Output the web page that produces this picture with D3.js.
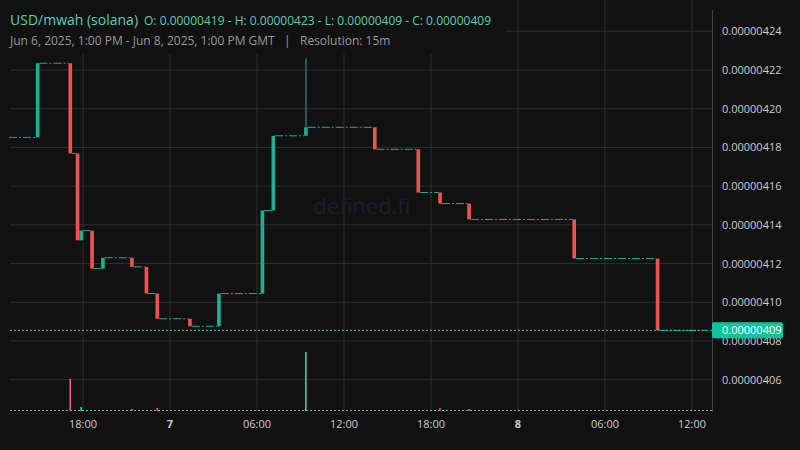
<!DOCTYPE html>
<html><head><meta charset="utf-8">
<script src="https://cdn.jsdelivr.net/npm/d3@7"></script>
<style>body{margin:0;background:#111}svg{display:block}</style></head>
<body><svg id="c" width="800" height="450"></svg>
<script>
const startLevel = 418.52; // in 1e-8
const stepHours = [1.75,4,4.5,4.75,5.5,6.25,8.25,9.25,10,12.25,14.25,17.25,18,20.25,25,28,29.5,31.5,38.75,44.5];
const stepPrices = [422.35,417.69,413.2,413.7,411.74,412.3,411.83,410.45,409.15,408.76,410.45,414.74,418.6,419.04,417.9,415.67,415.1,414.28,412.26,408.55];
const stepVolumes = [0,32,0,4,0,0,2,0,3,0,1,0,0,59,0,0,3,2,1,0];
const yTicks = [406,408,410,412,414,416,418,420,422,424];
const xTickHours = [5,11,17,23,29,35,41,47];
const xTickLabels = ["18:00","7","06:00","12:00","18:00","8","06:00","12:00"];
const lastPrice = 408.55;
const wickHigh = {13:422.6};

const svg = d3.select("#c");
svg.append("rect").attr("width",800).attr("height",450).attr("fill","#111");
const x = d3.scaleLinear().domain([0,48]).range([10.5,706.5]);
const y = d3.scaleLinear().domain([408,422]).range([341,70]);
const v = d3.scaleLinear().domain([0,59]).range([411,352]);
const grid = "#2e2e2e";
const g = svg.append("g");
yTicks.forEach(t=>g.append("line").attr("x1",10).attr("x2",712).attr("y1",y(t)).attr("y2",y(t)).attr("stroke",grid));
xTickHours.forEach(h=>g.append("line").attr("x1",x(h)).attr("x2",x(h)).attr("y1",0).attr("y2",412).attr("stroke",grid));
svg.append("line").attr("x1",712.5).attr("x2",712.5).attr("y1",10).attr("y2",412).attr("stroke","#444");
svg.append("text").attr("x",362).attr("y",214).attr("text-anchor","middle").attr("font-family","Open Sans").attr("font-size",22).attr("fill","#1d1d2c").text("defined.fi");

const teal="#26a69a", green="#1fb096", red="#ef5350";
let prev = startLevel, prevH = -0.1;
const levels=[];
stepHours.forEach((h,i)=>{levels.push([prevH,h,prev]);prev=stepPrices[i];prevH=h+0.25;});
levels.push([prevH,48,prev]);
levels.forEach(l=>svg.append("line").attr("x1",x(l[0])).attr("x2",x(l[1])).attr("y1",y(l[2])).attr("y2",y(l[2])).attr("stroke",teal).attr("stroke-width",1).attr("stroke-dasharray","8,2,2,2"));
svg.append("line").attr("x1",10).attr("x2",712).attr("y1",y(lastPrice)).attr("y2",y(lastPrice)).attr("stroke","#2fc4a6").attr("stroke-dasharray","2,2");
let o = startLevel;
stepHours.forEach((h,i)=>{
  const c = stepPrices[i], col = c>=o?green:red;
  if(wickHigh[i]!==undefined) svg.append("line").attr("x1",x(h+0.125)).attr("x2",x(h+0.125)).attr("y1",y(wickHigh[i])).attr("y2",y(Math.max(o,c))).attr("stroke",col);
  svg.append("rect").attr("x",x(h)).attr("width",x(0.25)-x(0)).attr("y",y(Math.max(o,c))).attr("height",Math.max(1,Math.abs(y(o)-y(c)))).attr("fill",col);
  o=c;
});
svg.append("line").attr("x1",10).attr("x2",712).attr("y1",410.5).attr("y2",410.5).attr("stroke","#4fc4a8").attr("stroke-dasharray","2,2");
o=startLevel;
stepHours.forEach((h,i)=>{
  const c=stepPrices[i], col=c>=o?"#4fd1b0":"#f0637a"; o=c;
  if(stepVolumes[i]>0) svg.append("rect").attr("x",x(h)+1).attr("width",1.5).attr("y",v(stepVolumes[i])).attr("height",411-v(stepVolumes[i])).attr("fill",col);
});
svg.append("rect").attr("x",0).attr("y",0).attr("width",505).attr("height",54).attr("fill","#111");
yTicks.forEach(t=>svg.append("text").attr("x",722).attr("y",y(t)+4).attr("font-family","Open Sans").attr("font-size",11).attr("fill","#ccc").text((t*1e-8).toFixed(8)));
svg.append("rect").attr("x",712).attr("y",y(lastPrice)-8).attr("width",71).attr("height",16).attr("rx",2).attr("fill","#0fc39a");
svg.append("text").attr("x",722).attr("y",y(lastPrice)+4).attr("font-family","Open Sans").attr("font-size",11).attr("fill","#fff").text((lastPrice*1e-8).toFixed(8));
xTickHours.forEach((h,i)=>svg.append("text").attr("x",x(h)).attr("y",428).attr("text-anchor","middle").attr("font-family","Open Sans").attr("font-size",11).attr("font-weight",/^\d$/.test(xTickLabels[i])?"bold":"normal").attr("fill","#ccc").text(xTickLabels[i]));
const hd=svg.append("text").attr("x",10).attr("y",25).attr("font-family","Open Sans").attr("fill","#5ccfae");
hd.append("tspan").attr("font-size",14).text("USD/mwah (solana)");
hd.append("tspan").attr("font-size",12).attr("dx",6).text("O: 0.00000419 - H: 0.00000423 - L: 0.00000409 - C: 0.00000409");
svg.append("text").attr("x",10).attr("y",45).attr("font-family","Open Sans").attr("font-size",12).attr("fill","#999").attr("xml:space","preserve").text("Jun 6, 2025, 1:00 PM - Jun 8, 2025, 1:00 PM GMT   |   Resolution: 15m");
</script></body></html>
